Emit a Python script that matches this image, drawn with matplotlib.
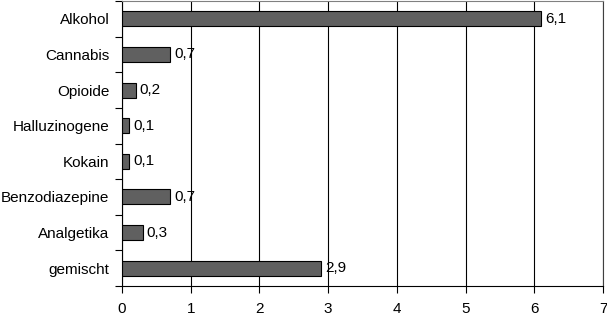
import matplotlib.pyplot as plt
import numpy as np

plt.rcParams['font.family'] = ['Liberation Sans', 'DejaVu Sans']

categories = ['Alkohol', 'Cannabis', 'Opioide', 'Halluzinogene', 'Kokain',
              'Benzodiazepine', 'Analgetika', 'gemischt']
values = [6.1, 0.7, 0.2, 0.1, 0.1, 0.7, 0.3, 2.9]
xticks = [0, 1, 2, 3, 4, 5, 6, 7]

fig = plt.figure(figsize=(6.07, 3.16), dpi=100)
ax = fig.add_axes([122 / 607, 1 - 286 / 316, 481 / 607, 285 / 316])

y = np.arange(len(categories))
ax.barh(y, values, height=0.42, color='#606060', edgecolor='black', linewidth=0.8, zorder=3)

for yi, v in zip(y, values):
    ax.text(v + 0.06, yi, f"{v:.1f}".replace('.', ','), va='center', ha='left', fontsize=11)

ax.set_xlim(0, 7)
ax.set_ylim(len(categories) - 0.5, -0.5)
ax.set_xticks(xticks)
ax.set_xticklabels([str(t) for t in xticks], fontsize=11)
ax.set_yticks(y)
ax.set_yticklabels(categories, fontsize=11)
ax.set_yticks(np.arange(len(categories) + 1) - 0.5, minor=True)
ax.tick_params(axis='y', which='major', length=0, pad=9)
ax.tick_params(axis='y', which='minor', length=5, width=0.8, direction='out')
ax.tick_params(axis='x', length=5, width=0.8, direction='out', pad=6.5)

ax.grid(axis='x', color='black', linewidth=0.8, zorder=0)
for s in ['left', 'bottom']:
    ax.spines[s].set_color('black')
    ax.spines[s].set_linewidth(0.8)
ax.spines['top'].set_color('#808080')
ax.spines['right'].set_color('#404040')
ax.spines['top'].set_linewidth(0.8)
ax.spines['right'].set_linewidth(0.8)

fig.savefig('out.png', dpi=100)
